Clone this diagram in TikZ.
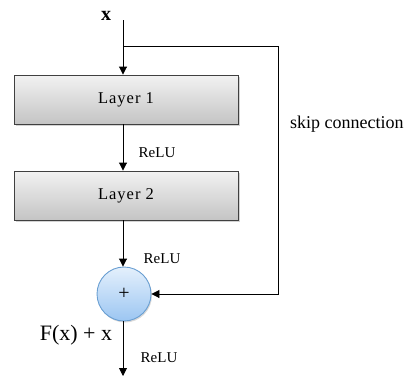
\documentclass[tikz,border=0pt]{standalone}
\usepackage{fontspec}
\setmainfont{Liberation Serif}
\usetikzlibrary{arrows.meta,shadows,calc}
\definecolor{boxtop}{HTML}{F2F2F2}
\definecolor{boxbot}{HTML}{C4C4C4}
\definecolor{circtop}{HTML}{E4F0FC}
\definecolor{circbot}{HTML}{9CC6F2}
\definecolor{circedge}{HTML}{6A9FD2}
\tikzset{
  x=1pt, y=1pt,
  layerbox/.style={draw=black!75, line width=0.9pt, minimum width=224pt, minimum height=49pt,
    top color=boxtop, bottom color=boxbot, drop shadow={shadow xshift=1.5pt, shadow yshift=-1.5pt, opacity=0.35},
    font=\fontsize{16.5}{16.5}\selectfont\addfontfeatures{LetterSpace=6}, inner sep=0pt},
  sumnode/.style={circle, draw=circedge, line width=0.9pt, minimum size=54pt, inner sep=0pt,
    top color=circtop, bottom color=circbot, drop shadow={shadow xshift=1pt, shadow yshift=-1.5pt, opacity=0.3},
    font=\fontsize{20}{20}\selectfont},
  flow/.style={line width=0.9pt, -{Triangle[length=8pt,width=8pt]}},
  lbl/.style={font=\fontsize{15}{15}\selectfont, inner sep=0pt},
}
\begin{document}
\begin{tikzpicture}
  \useasboundingbox (0,0) rectangle (406,376);
  % input, blocks and adder
  \coordinate (in) at (123,356);
  \coordinate (split) at (123,330);
  \coordinate (corner) at (278,330);
  \coordinate (out) at (123,0);
  \node[font=\bfseries\fontsize{20}{20}\selectfont, inner sep=0pt] (xin) at (106,360) {x};
  \node[layerbox] (l1) at (126,276.5) {Layer 1};
  \node[layerbox] (l2) at (126,180.5) {Layer 2};
  \node[sumnode] (sum) at (124,82) {+};
  % main path
  \draw[flow] (in) -- (in |- l1.north);
  \draw[flow] (l1.south -| in) -- (l2.north -| in);
  \draw[flow] (l2.south -| in) -- (sum.north -| in);
  \draw[flow] (sum.south -| in) -- (out);
  % skip connection
  \draw[flow] (split) -- (corner) |- (sum.east);
  % labels
  \node[lbl] (r1) at (157,223) {ReLU};
  \node[lbl] (r2) at (162,117) {ReLU};
  \node[lbl] (r3) at (159,18) {ReLU};
  \node[font=\fontsize{22}{22}\selectfont, inner sep=0pt] (fx) at (76,41) {F(x) + x};
  \node[font=\fontsize{18}{18}\selectfont, inner sep=0pt, anchor=west] (skip) at (290,252) {skip connection};
\end{tikzpicture}
\end{document}
